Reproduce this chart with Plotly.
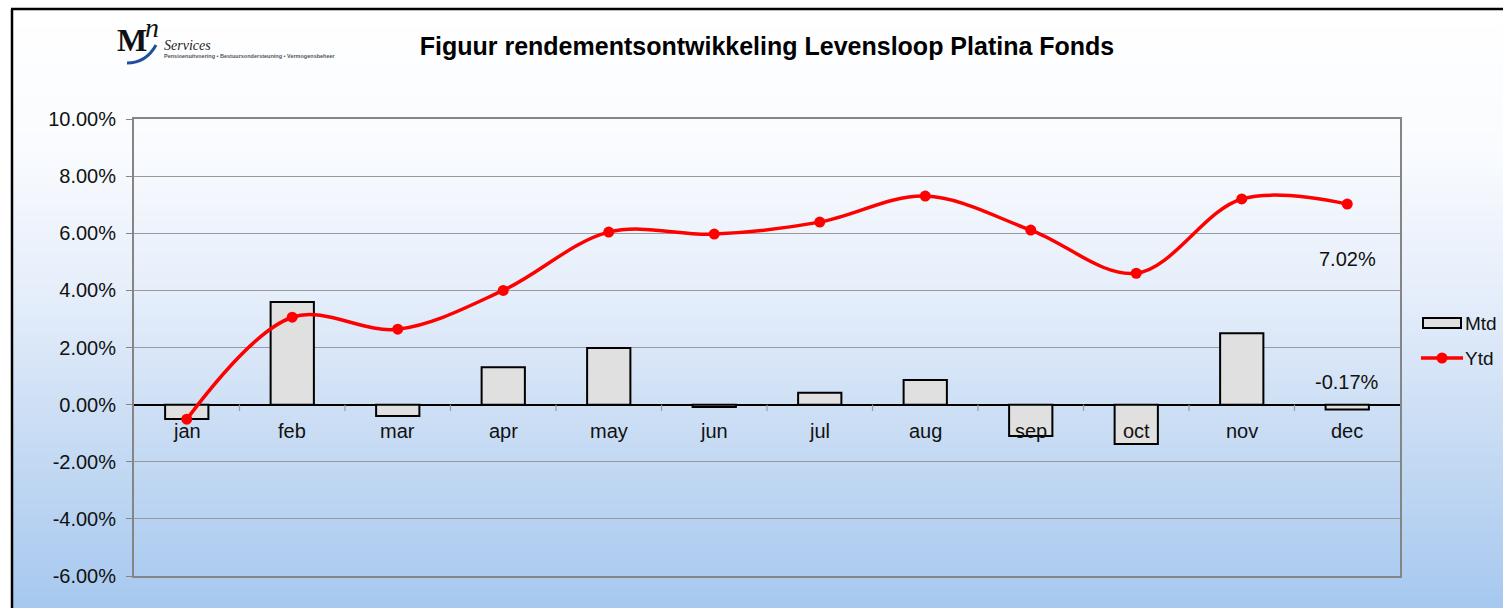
import plotly.graph_objects as go
import zlib, struct, base64

# ---------------- data ----------------
months = ["jan", "feb", "mar", "apr", "may", "jun", "jul", "aug", "sep", "oct", "nov", "dec"]
mtd = [-0.50, 3.59, -0.40, 1.31, 1.98, -0.08, 0.42, 0.86, -1.10, -1.38, 2.50, -0.17]
ytd = [-0.51, 3.06, 2.64, 4.00, 6.04, 5.97, 6.39, 7.30, 6.11, 4.60, 7.20, 7.02]
y_ticks = [-6, -4, -2, 0, 2, 4, 6, 8, 10]
y_tick_labels = [f"{v:.2f}%" for v in y_ticks]
series_names = ["Mtd", "Ytd"]
title_text = "Figuur rendementsontwikkeling Levensloop Platina Fonds"

# ---------------- geometry helpers ----------------
W, H = 1503, 608
L, R, T, B = 134, 1400, 119, 576  # plot area in pixels


def px2x(px):
    return (px - L) / (R - L)


def py2y(py):
    return (B - py) / (B - T)


# ---------------- background gradient image ----------------
stops = [(0, (255, 255, 255)), (141, (249, 251, 254)), (291, (228, 237, 250)),
         (441, (197, 218, 243)), (599, (166, 200, 239))]


def grad(yy):
    for (y0, c0), (y1, c1) in zip(stops[:-1], stops[1:]):
        if y0 <= yy <= y1:
            t = (yy - y0) / (y1 - y0)
            return tuple(int(round(a + (b - a) * t)) for a, b in zip(c0, c1))
    return stops[-1][1]


def make_png(w, h):
    raw = bytearray()
    for yy in range(h):
        raw.append(0)
        raw.extend(bytes(grad(yy)) * w)

    def chunk(tag, data):
        return (struct.pack('>I', len(data)) + tag + data +
                struct.pack('>I', zlib.crc32(tag + data) & 0xffffffff))
    png = (b'\x89PNG\r\n\x1a\n' +
           chunk(b'IHDR', struct.pack('>IIBBBBB', w, h, 8, 2, 0, 0, 0)) +
           chunk(b'IDAT', zlib.compress(bytes(raw))) + chunk(b'IEND', b''))
    return 'data:image/png;base64,' + base64.b64encode(png).decode()


bg_src = make_png(4, 599)

FONT = "Liberation Sans, Arial, sans-serif"
TXT = "#111111"
BAR_FILL = "#e0e0e0"
RED = "#ff0000"
LBL = 20

fig = go.Figure()
fig.add_trace(go.Bar(
    x=months, y=mtd, name=series_names[0], width=0.41,
    marker=dict(color=BAR_FILL, line=dict(color="black", width=2)),
))
fig.add_trace(go.Scatter(
    x=months, y=ytd, name=series_names[1], mode="lines+markers",
    line=dict(color=RED, width=3.5, shape="spline", smoothing=1.0),
    marker=dict(color=RED, size=11),
))

annotations = []
for m in months:
    annotations.append(dict(x=m, y=0, xref="x", yref="y", text=m, showarrow=False,
                            yanchor="middle", yshift=-26,
                            font=dict(family=FONT, size=LBL, color=TXT)))
annotations.append(dict(x=months[-1], y=ytd[-1], xref="x", yref="y",
                        text=f"{ytd[-1]:.2f}%", showarrow=False, yanchor="middle",
                        yshift=-55, font=dict(family=FONT, size=LBL, color=TXT)))
annotations.append(dict(x=months[-1], y=mtd[-1], xref="x", yref="y",
                        text=f"{mtd[-1]:.2f}%", showarrow=False, yanchor="middle",
                        yshift=27, font=dict(family=FONT, size=LBL, color=TXT)))
# legend (drawn by hand so the symbols match the original's wide swatches)
LX = 1421  # left edge of legend symbols
for name, py in zip(series_names, [323, 358]):
    annotations.append(dict(x=px2x(LX + 42), y=py2y(py), xref="paper", yref="paper",
                            text=name, showarrow=False, xanchor="left", yanchor="middle",
                            font=dict(family=FONT, size=LBL - 1, color=TXT)))
# logo text
annotations += [
    dict(x=px2x(115), y=py2y(40), xref="paper", yref="paper", text="<b>M</b>",
         showarrow=False, xanchor="left", yanchor="middle",
         font=dict(family="Liberation Serif, serif", size=32, color=TXT)),
    dict(x=px2x(143), y=py2y(28), xref="paper", yref="paper", text="<i>n</i>",
         showarrow=False, xanchor="left", yanchor="middle",
         font=dict(family="Liberation Serif, serif", size=28, color=TXT)),
    dict(x=px2x(162), y=py2y(45), xref="paper", yref="paper", text="<i>Services</i>",
         showarrow=False, xanchor="left", yanchor="middle",
         font=dict(family="Liberation Serif, serif", size=14, color="#222222")),
    dict(x=px2x(162), y=py2y(56), xref="paper", yref="paper",
         text="<b>Pensioenuitvoering • Bestuursondersteuning • Vermogensbeheer</b>",
         showarrow=False, xanchor="left", yanchor="middle",
         font=dict(family=FONT, size=5.5, color="#555555")),
]

shapes = []
# category tick marks on zero line
for i in range(len(months) - 1):
    shapes.append(dict(type="line", xref="x", yref="y", x0=i + 0.5, x1=i + 0.5,
                       y0=0, y1=-0.22, line=dict(color="#9a9a9a", width=1.2), layer="above"))
# outer frame
shapes.append(dict(type="line", xref="paper", yref="paper", x0=px2x(11), x1=px2x(1503),
                   y0=py2y(9), y1=py2y(9), line=dict(color="black", width=2.5)))
shapes.append(dict(type="line", xref="paper", yref="paper", x0=px2x(12), x1=px2x(12),
                   y0=py2y(9), y1=py2y(608), line=dict(color="black", width=2.5)))
# legend symbols
shapes.append(dict(type="rect", xref="paper", yref="paper",
                   x0=px2x(LX + 2), x1=px2x(LX + 40), y0=py2y(318), y1=py2y(328),
                   fillcolor=BAR_FILL, line=dict(color="black", width=2)))
shapes.append(dict(type="line", xref="paper", yref="paper",
                   x0=px2x(LX), x1=px2x(LX + 42), y0=py2y(358), y1=py2y(358),
                   line=dict(color=RED, width=3.5)))
shapes.append(dict(type="circle", xref="paper", yref="paper",
                   x0=px2x(LX + 15.5), x1=px2x(LX + 26.5), y0=py2y(352.5), y1=py2y(363.5),
                   fillcolor=RED, line=dict(color=RED, width=0)))
# logo swoosh
sx = [127, 140, 150, 156]
sy = [63, 63, 56, 45]
path = (f"M {px2x(sx[0])},{py2y(sy[0])} C {px2x(sx[1])},{py2y(sy[1])} "
        f"{px2x(sx[2])},{py2y(sy[2])} {px2x(sx[3])},{py2y(sy[3])}")
shapes.append(dict(type="path", xref="paper", yref="paper", path=path,
                   line=dict(color="#1f4e9e", width=3)))

fig.update_layout(
    width=W, height=H,
    margin=dict(l=L, r=W - R, t=T, b=H - B, autoexpand=False),
    paper_bgcolor="white",
    plot_bgcolor="rgba(0,0,0,0)",
    title=dict(text=f"<b>{title_text}</b>", x=0.5, xref="paper", xanchor="center",
               y=1 - 46 / H, yref="container", yanchor="middle",
               font=dict(family=FONT, size=25, color="black")),
    font=dict(family=FONT, size=LBL, color=TXT),
    showlegend=False,
    xaxis=dict(range=[-0.5, 11.5], showticklabels=False, showgrid=False, ticks="",
               showline=True, mirror=True, linecolor="#858585", linewidth=2,
               zeroline=False, fixedrange=True),
    yaxis=dict(range=[-6, 10], tickvals=y_ticks, ticktext=y_tick_labels,
               showgrid=True, gridcolor="#9a9a9a", gridwidth=1,
               zeroline=True, zerolinecolor="black", zerolinewidth=1.5,
               showline=True, mirror=True, linecolor="#858585", linewidth=2,
               ticks="outside", ticklen=6, tickcolor="#858585", ticklabelstandoff=6,
               tickfont=dict(family=FONT, size=20, color=TXT)),
    bargap=0.59,
    annotations=annotations,
    shapes=shapes,
    images=[dict(source=bg_src, xref="paper", yref="paper", x=px2x(12), y=py2y(9),
                 sizex=(W - 12) / (R - L), sizey=(H - 9) / (B - T),
                 xanchor="left", yanchor="top", sizing="stretch", layer="below")],
)

fig.write_html("out.html", config={"displayModeBar": False},
               post_script="document.body.style.margin='0';document.body.style.overflow='hidden';")
